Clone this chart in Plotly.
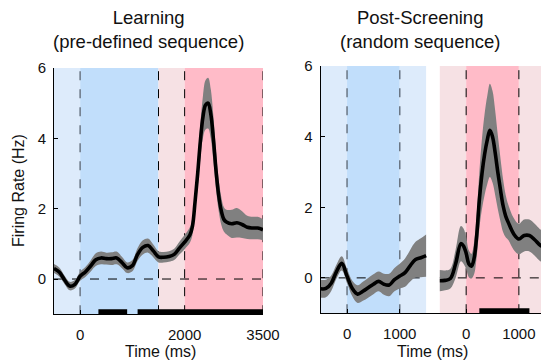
import plotly.graph_objects as go

# ---------------- data ----------------
# Left panel: Learning (pre-defined sequence)
L_T = [-500, -400, -300, -200, -100, 0, 100, 200, 300, 400, 500, 600, 700, 800, 900, 1000,
       1100, 1200, 1300, 1400, 1500, 1600, 1700, 1800, 1900, 2000, 2100,
       2150, 2200, 2250, 2300, 2350, 2400, 2450, 2500, 2550, 2600, 2650, 2700, 2750, 2800,
       2900, 3000, 3100, 3200, 3300, 3400, 3500]
L_MEAN = [0.30, 0.20, -0.02, -0.20, -0.15, 0.08, 0.20, 0.37, 0.55, 0.60, 0.58, 0.58, 0.60, 0.47, 0.32, 0.38,
          0.70, 0.90, 0.95, 0.80, 0.63, 0.62, 0.64, 0.70, 0.88, 1.05, 1.25,
          1.50, 2.20, 3.00, 3.90, 4.60, 4.95, 5.00, 4.70, 4.00, 3.10, 2.40, 1.95, 1.70, 1.62,
          1.57, 1.60, 1.55, 1.47, 1.45, 1.45, 1.40]
L_SEM = [0.13, 0.13, 0.12, 0.12, 0.12, 0.13, 0.14, 0.16, 0.18, 0.18, 0.17, 0.18, 0.18, 0.16, 0.15, 0.16,
         0.18, 0.20, 0.20, 0.18, 0.16, 0.15, 0.15, 0.16, 0.18, 0.20, 0.22,
         0.25, 0.30, 0.40, 0.50, 0.60, 0.70, 0.72, 0.70, 0.65, 0.55, 0.45, 0.40, 0.35, 0.35,
         0.40, 0.42, 0.38, 0.33, 0.32, 0.32, 0.30]
L_EPOCHS = [-500, 0, 1500, 2000, 3500]
L_VLINES = [0, 1500, 2000, 3500]
L_BARS = [(350, 900), (1100, 3500)]
L_TICKS = [0, 2000, 3500]

# Right panel: Post-Screening (random sequence), segment 1 (blue) and segment 2 (pink)
R1_T = [-500, -400, -300, -200, -100, 0, 100, 200, 300, 400, 500, 600, 700, 800, 900, 1000,
        1100, 1200, 1300, 1400, 1500]
R1_MEAN = [-0.31, -0.30, -0.15, 0.18, 0.41, 0.05, -0.30, -0.46, -0.38, -0.28, -0.18, -0.10, -0.18, -0.20,
           -0.05, 0.05, 0.15, 0.35, 0.52, 0.57, 0.63]
R1_SEM = [0.25, 0.25, 0.22, 0.20, 0.20, 0.20, 0.22, 0.25, 0.27, 0.28, 0.28, 0.28, 0.30, 0.32, 0.33, 0.35,
          0.40, 0.45, 0.50, 0.55, 0.60]
R2_T = [-500, -400, -300, -200, -100, -50, 0, 50, 100, 150, 200, 250, 300, 350, 400, 450, 500, 550,
        600, 650, 700, 750, 800, 900, 1000, 1100, 1200, 1300, 1400, 1500]
R2_MEAN = [-0.08, -0.07, -0.02, 0.40, 0.97, 0.90, 0.70, 0.40, 0.33, 0.55, 1.20, 2.20, 2.95, 3.50, 3.90,
           4.18, 4.00, 3.55, 3.00, 2.50, 2.05, 1.75, 1.57, 1.25, 1.10, 1.20, 1.20, 1.08, 0.93, 0.85]
R2_SEM = [0.30, 0.28, 0.28, 0.40, 0.50, 0.50, 0.45, 0.38, 0.35, 0.45, 0.60, 0.80, 1.00, 1.15, 1.25,
          1.32, 1.30, 1.20, 1.05, 0.90, 0.75, 0.60, 0.50, 0.45, 0.43, 0.45, 0.45, 0.45, 0.45, 0.45]
R_EPOCHS = [-500, 0, 1000, 1500]
R_VLINES = [0, 1000]
R2_BARS = [(250, 1200)]
R_TICKS = [0, 1000]
R1_OFFSET = 500
R2_OFFSET = 2760
R_XMAX = 4180

# ---------------- styling ----------------
FONT = "Liberation Sans, Arial, sans-serif"
LBLUE, BLUE, LPINK, PINK = "#ddebfb", "#c1defb", "#f6e1e4", "#ffbbc8"
GREY_DASH = "#6a7684"
BAND = "#808080"

fig = go.Figure()
shapes = []


def rect(xref, yref, x0, x1, color):
    shapes.append(dict(type="rect", xref=xref, yref=yref, x0=x0, x1=x1, y0=-1, y1=6,
                       fillcolor=color, line=dict(width=0), layer="below"))


def vline(xref, yref, x, color, width=1.2):
    shapes.append(dict(type="line", xref=xref, yref=yref, x0=x, x1=x, y0=-1, y1=6,
                       line=dict(color=color, width=width, dash="dash"), layer="below"))


def hline(xref, yref, x0, x1):
    shapes.append(dict(type="line", xref=xref, yref=yref, x0=x0, x1=x1, y0=0, y1=0,
                       line=dict(color="black", width=1, dash="dash"), layer="below"))


def bar(xref, yref, x0, x1):
    shapes.append(dict(type="rect", xref=xref, yref=yref, x0=x0, x1=x1, y0=-1, y1=-0.86,
                       fillcolor="black", line=dict(width=0), layer="above"))


def add_trace(t, m, s, xa, ya, off=0):
    x = [v + off for v in t]
    up = [a + b for a, b in zip(m, s)]
    lo = [a - b for a, b in zip(m, s)]
    common = dict(mode="lines", hoverinfo="skip", showlegend=False, xaxis=xa, yaxis=ya)
    fig.add_trace(go.Scatter(x=x, y=lo, line=dict(width=0, shape="spline"), **common))
    fig.add_trace(go.Scatter(x=x, y=up, line=dict(width=0, shape="spline"), fill="tonexty",
                             fillcolor=BAND, **common))
    fig.add_trace(go.Scatter(x=x, y=m, line=dict(color="black", width=3.6, shape="spline"), **common))


# Left panel shading
lcols = [LBLUE, BLUE, LPINK, PINK]
for i, c in enumerate(lcols):
    rect("x", "y", L_EPOCHS[i], L_EPOCHS[i + 1], c)
hline("x", "y", L_EPOCHS[0], L_EPOCHS[-1])
for v in L_VLINES:
    vline("x", "y", v, GREY_DASH if v == 0 else "black", 1.5 if v == 0 else 1)
for a, b in L_BARS:
    bar("x", "y", a, b)

# Right panel shading
for off, cols, dcol, dw in [(R1_OFFSET, [LBLUE, BLUE, LBLUE], GREY_DASH, 1.5),
                            (R2_OFFSET, [LPINK, PINK, LPINK], "black", 1)]:
    for i, c in enumerate(cols):
        rect("x2", "y2", R_EPOCHS[i] + off, min(R_EPOCHS[i + 1] + off, R_XMAX), c)
    hline("x2", "y2", R_EPOCHS[0] + off, min(R_EPOCHS[-1] + off, R_XMAX))
    for v in R_VLINES:
        vline("x2", "y2", v + off, dcol, dw)
for a, b in R2_BARS:
    bar("x2", "y2", a + R2_OFFSET, b + R2_OFFSET)

add_trace(L_T, L_MEAN, L_SEM, "x", "y")
add_trace(R1_T, R1_MEAN, R1_SEM, "x2", "y2", R1_OFFSET)
add_trace(R2_T, R2_MEAN, R2_SEM, "x2", "y2", R2_OFFSET)

W, H = 541, 363
axis_common = dict(showgrid=False, zeroline=False, showline=True, linecolor="black", linewidth=1,
                   ticks="inside", ticklen=4, tickcolor="black", automargin=False,
                   tickfont=dict(family=FONT, size=15, color="#111"))

fig.update_layout(
    width=W, height=H, margin=dict(l=0, r=0, t=0, b=0, pad=0), autosize=False,
    plot_bgcolor="white", paper_bgcolor="white", showlegend=False,
    xaxis=dict(domain=[54 / W, 263 / W], range=[-500, 3500], anchor="y",
               tickvals=L_TICKS, ticktext=[str(v) for v in L_TICKS], ticklabelstandoff=7, **axis_common),
    yaxis=dict(domain=[(H - 314.2) / H, (H - 68) / H], range=[-1, 6], anchor="x",
               tickvals=[0, 2, 4, 6], ticklabelstandoff=4, **axis_common),
    xaxis2=dict(domain=[320.7 / W, 1], range=[0, R_XMAX], anchor="y2",
                tickvals=[v + R1_OFFSET for v in R_TICKS] + [v + R2_OFFSET for v in R_TICKS],
                ticktext=[str(v) for v in R_TICKS] * 2, ticklabelstandoff=7, **axis_common),
    yaxis2=dict(domain=[(H - 313.2) / H, (H - 66) / H], range=[-1, 6], anchor="x2",
                tickvals=[0, 2, 4, 6], ticklabelstandoff=4, **axis_common),
    shapes=shapes,
    annotations=[
        dict(text="Learning<br>(pre-defined sequence)", x=148 / W, y=1 - 29 / H, xref="paper", yref="paper",
             showarrow=False, xanchor="center", yanchor="middle", font=dict(family=FONT, size=18.5, color="#111")),
        dict(text="Post-Screening<br>(random sequence)", x=420 / W, y=1 - 29 / H, xref="paper", yref="paper",
             showarrow=False, xanchor="center", yanchor="middle", font=dict(family=FONT, size=18.5, color="#111")),
        dict(text="Time (ms)", x=160 / W, y=1 - 351 / H, xref="paper", yref="paper",
             showarrow=False, xanchor="center", yanchor="middle", font=dict(family=FONT, size=16, color="#111")),
        dict(text="Time (ms)", x=432 / W, y=1 - 351 / H, xref="paper", yref="paper",
             showarrow=False, xanchor="center", yanchor="middle", font=dict(family=FONT, size=16, color="#111")),
        dict(text="Firing Rate (Hz)", x=18 / W, y=1 - 191 / H, xref="paper", yref="paper", textangle=-90,
             showarrow=False, xanchor="center", yanchor="middle", font=dict(family=FONT, size=16, color="#111")),
    ],
)

fig.write_html("out.html")
